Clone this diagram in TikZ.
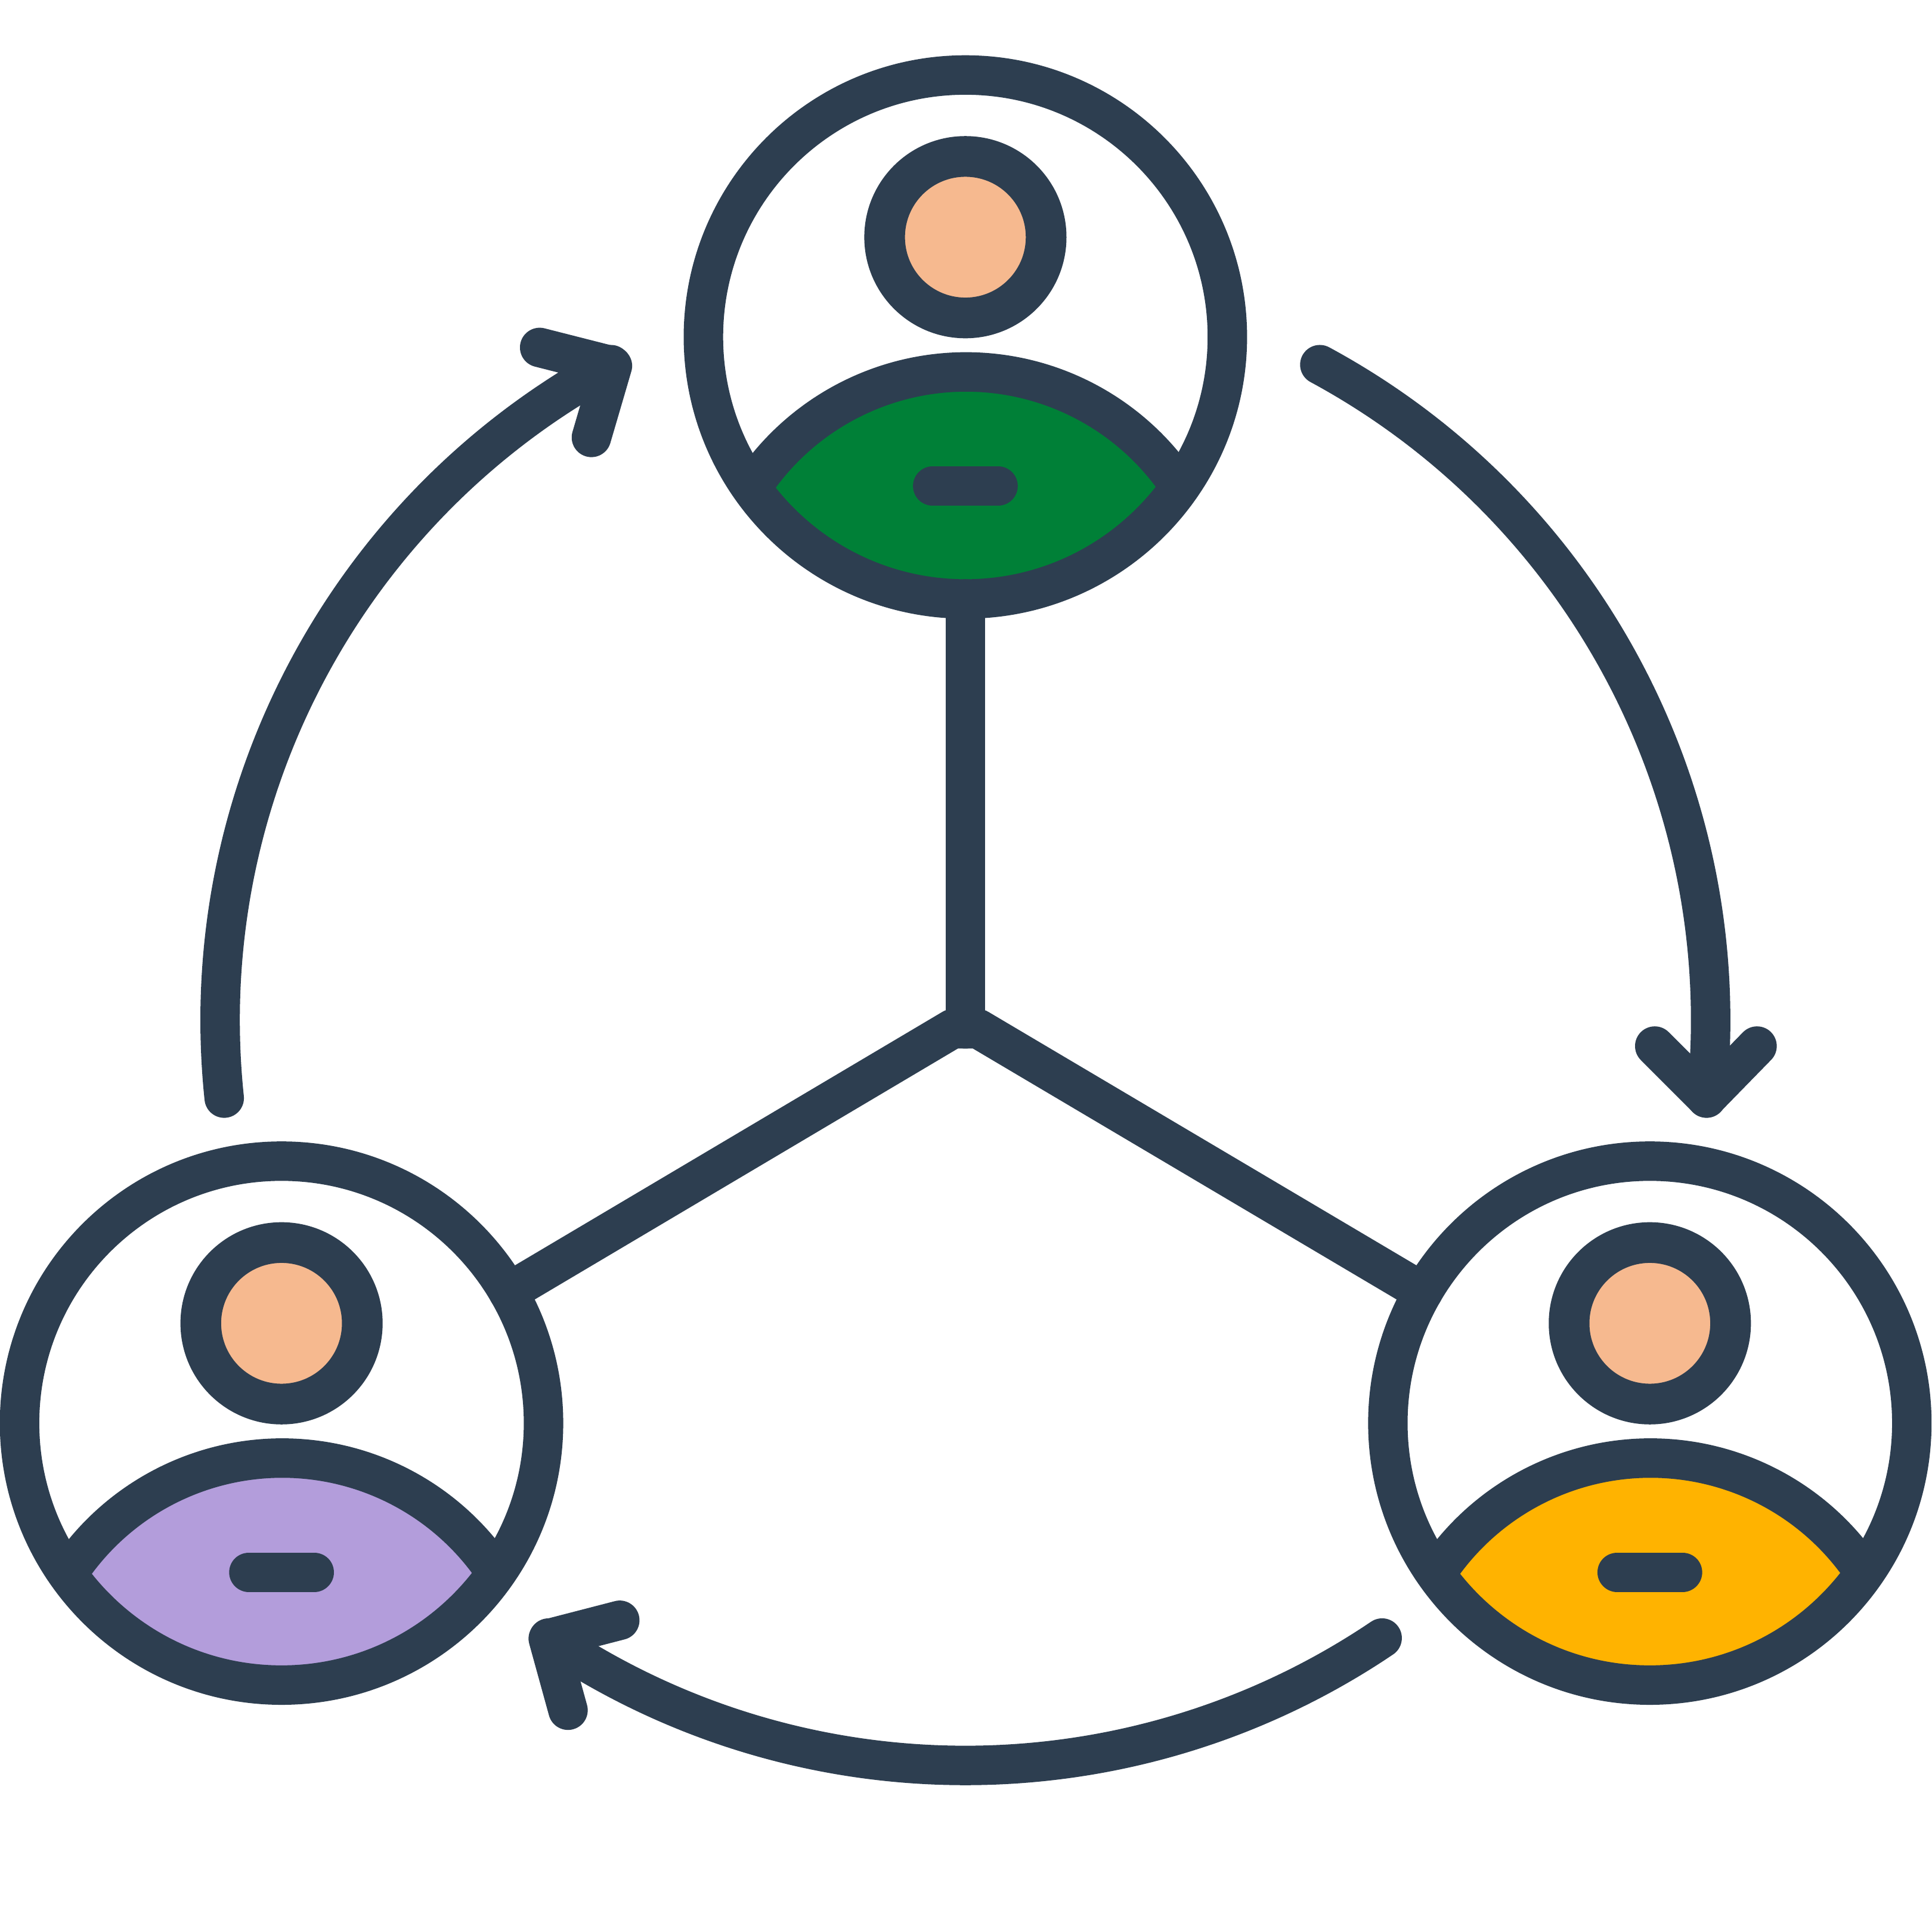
\documentclass[tikz,border=0pt]{standalone}
\definecolor{ink}{HTML}{2D3E50}
\definecolor{skin}{HTML}{F6B98F}
\definecolor{shirtgreen}{HTML}{008037}
\definecolor{shirtpurple}{HTML}{B39DDB}
\definecolor{shirtyellow}{HTML}{FFB300}
\tikzset{
  stroke/.style={draw=ink,line width=0.32cm,line cap=round,line join=round},
  ring/.style={circle,draw=ink,line width=0.32cm,minimum size=4.25cm,inner sep=0pt,outer sep=0pt},
  headc/.style={circle,draw=ink,fill=skin,line width=0.33cm,minimum size=1.31cm,inner sep=0pt,outer sep=0pt},
  person/.pic={
    \begin{scope}
      \clip (0,0) circle[radius=2.125cm];
      \fill[fill=#1] (0,-237) circle[radius=2.08cm];
    \end{scope}
    \draw[stroke] (-172.6,-121) arc[start angle=146.3,end angle=33.7,radius=2.08cm];
    \draw[stroke] (-26.5,-121) -- (26.5,-121);
    \node[headc] (-head) at (0,81) {};
    \node[ring] (-ring) at (0,0) {};
  }
}
\begin{document}
\begin{tikzpicture}[x=0.01cm,y=0.01cm]
\useasboundingbox (0,0) rectangle (1568,1568);
\fill[white] (0,0) rectangle (1568,1568);
\coordinate (hub) at (783.5,733);
\coordinate (hubL) at (773,733);
\coordinate (hubR) at (794,733);
\coordinate (orbit) at (783.5,740);
\coordinate (topc) at (783.5,1294.5);
\coordinate (leftc) at (228.5,413);
\coordinate (rightc) at (1339,413);
% people
\pic (top) at (topc) {person=shirtgreen};
\pic (left) at (leftc) {person=shirtpurple};
\pic (right) at (rightc) {person=shirtyellow};
% connectors
\draw[stroke] (top-ring.south) -- (hub);
\draw[stroke] (left-ring.30) -- (hubL) -- (hubR) -- (right-ring.150);
% orbit arrows
\coordinate (tipR) at (1385,677);
\coordinate (armRa) at (1343,719);
\coordinate (armRb) at (1426,719);
\coordinate (tipL) at (497,1271);
\coordinate (armLa) at (438,1286);
\coordinate (armLb) at (480,1213);
\coordinate (tipB) at (445,238);
\coordinate (armBa) at (503,253);
\coordinate (armBb) at (461,180);
\draw[stroke] (orbit) ++(61.6:6.045cm) arc[start angle=61.6,end angle=-6,radius=6.045cm];
\draw[stroke] (armRa) -- (tipR) -- (armRb);
\draw[stroke] (orbit) ++(186:6.045cm) arc[start angle=186,end angle=118.4,radius=6.045cm];
\draw[stroke] (armLa) -- (tipL) -- (armLb);
\draw[stroke] (orbit) ++(-56:6.045cm) arc[start angle=-56,end angle=-124,radius=6.045cm];
\draw[stroke] (armBa) -- (tipB) -- (armBb);
\end{tikzpicture}
\end{document}
